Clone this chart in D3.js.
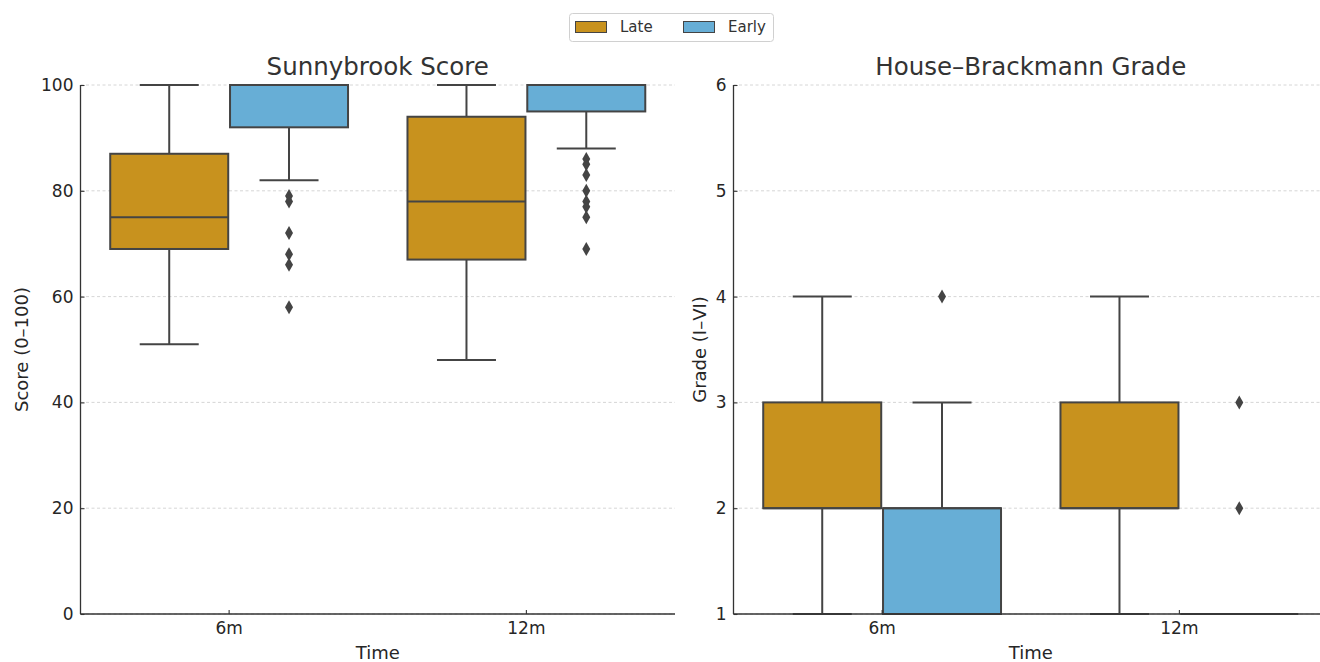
<!DOCTYPE html>
<html>
<head>
<meta charset="utf-8">
<script src="https://cdn.jsdelivr.net/npm/d3@7"></script>
<style>
  html, body { margin: 0; padding: 0; background: #fff; }
  svg { display: block; font-family: "DejaVu Sans", sans-serif; }
</style>
</head>
<body>
<svg id="chart" width="1320" height="662"></svg>
<script>
// ---- data ----
const times = ["6m", "12m"];
const groups = ["Late", "Early"];
const groupColors = ["#C8921E", "#67AED6"];

// box stats: [whiskerLow, q1, median, q3, whiskerHigh] per time point
const sbLate = [[51, 69, 75, 87, 100], [48, 67, 78, 94, 100]];
const sbEarly = [[82, 92, 100, 100, 100], [88, 95, 100, 100, 100]];
const sbLateOutliers = [[], []];
const sbEarlyOutliers = [[79, 78, 72, 68, 66, 58], [86, 85, 83, 80, 78, 77, 75, 69]];

const hbLate = [[1, 2, 2, 3, 4], [1, 2, 2, 3, 4]];
const hbEarly = [[1, 1, 2, 2, 3], [1, 1, 1, 1, 1]];
const hbLateOutliers = [[], []];
const hbEarlyOutliers = [[4], [3, 2]];

const sbTicks = [0, 20, 40, 60, 80, 100];
const hbTicks = [1, 2, 3, 4, 5, 6];

// ---- drawing ----
const svg = d3.select("#chart");
const edge = "#444444";
const textColor = "#262626";

function panel(opts) {
  const { x0, x1, yTop, yBot, domain, ticks, title, ylabel, ylabelX, stats, outliers } = opts;
  const g = svg.append("g");
  const x = d3.scaleBand().domain(times).range([x0, x1]).padding(0);
  const y = d3.scaleLinear().domain(domain).range([yBot, yTop]);
  const bw = x.bandwidth();
  const hue = d3.scaleBand().domain(groups).range([-0.4 * bw, 0.4 * bw]).paddingInner(0.015);

  // grid
  g.append("g").selectAll("line").data(ticks).join("line")
    .attr("x1", x0).attr("x2", x1)
    .attr("y1", d => y(d)).attr("y2", d => y(d))
    .attr("stroke", "#cccccc").attr("stroke-width", 0.8)
    .attr("stroke-dasharray", "3,2.5");

  // boxes
  groups.forEach((grp, gi) => {
    times.forEach((t, ti) => {
      const s = stats[gi][ti];
      const left = x(t) + bw / 2 + hue(grp);
      const w = hue.bandwidth();
      const cx = left + w / 2;
      const bg = g.append("g");
      bg.append("line").attr("x1", cx).attr("x2", cx).attr("y1", y(s[0])).attr("y2", y(s[1]))
        .attr("stroke", edge).attr("stroke-width", 2);
      bg.append("line").attr("x1", cx).attr("x2", cx).attr("y1", y(s[3])).attr("y2", y(s[4]))
        .attr("stroke", edge).attr("stroke-width", 2);
      [s[0], s[4]].forEach(v => {
        bg.append("line").attr("x1", cx - w / 4).attr("x2", cx + w / 4)
          .attr("y1", y(v)).attr("y2", y(v))
          .attr("stroke", edge).attr("stroke-width", 2);
      });
      bg.append("rect").attr("x", left).attr("width", w)
        .attr("y", y(s[3])).attr("height", Math.max(0, y(s[1]) - y(s[3])))
        .attr("fill", groupColors[gi]).attr("stroke", edge).attr("stroke-width", 2);
      bg.append("line").attr("x1", left).attr("x2", left + w)
        .attr("y1", y(s[2])).attr("y2", y(s[2]))
        .attr("stroke", edge).attr("stroke-width", 2);
      bg.selectAll("path.out").data(outliers[gi][ti]).join("path")
        .attr("class", "out")
        .attr("d", "M0,-7L4,0L0,7L-4,0Z")
        .attr("transform", v => `translate(${cx},${y(v)})`)
        .attr("fill", edge);
    });
  });

  // axes (ticks pointing inward)
  const yAxis = d3.axisLeft(y).tickValues(ticks).tickSize(-4).tickPadding(7).tickFormat(d3.format("d"));
  const ya = g.append("g").attr("transform", `translate(${x0},0)`).call(yAxis);
  const xAxis = d3.axisBottom(x).tickSize(-4).tickPadding(8);
  const xa = g.append("g").attr("transform", `translate(0,${yBot})`).call(xAxis);
  [ya, xa].forEach(a => {
    a.select(".domain").attr("stroke", "#333").attr("stroke-width", 1.3);
    a.selectAll(".tick line").attr("stroke", "#333").attr("stroke-width", 1.1);
    a.selectAll(".tick text").attr("fill", textColor).style("font-size", "17px")
      .style("font-family", "DejaVu Sans, sans-serif");
  });
  ya.select(".domain").attr("d", `M0,${yBot}V${yTop}`);
  xa.select(".domain").attr("d", `M${x0},0H${x1}`);

  g.append("text").attr("x", (x0 + x1) / 2).attr("y", 75).attr("text-anchor", "middle")
    .attr("fill", "#333").style("font-size", "24.5px").text(title);
  g.append("text").attr("x", (x0 + x1) / 2).attr("y", 659).attr("text-anchor", "middle")
    .attr("fill", textColor).style("font-size", "18px").text("Time");
  g.append("text").attr("transform", `translate(${ylabelX},${(yTop + yBot) / 2}) rotate(-90)`)
    .attr("text-anchor", "middle").attr("fill", textColor).style("font-size", "18px").text(ylabel);
}

panel({
  x0: 80.5, x1: 675, yTop: 85, yBot: 614, domain: [0, 100], ticks: sbTicks,
  title: "Sunnybrook Score", ylabel: "Score (0–100)", ylabelX: 28,
  stats: [sbLate, sbEarly], outliers: [sbLateOutliers, sbEarlyOutliers]
});
panel({
  x0: 733.5, x1: 1328, yTop: 85, yBot: 614, domain: [1, 6], ticks: hbTicks,
  title: "House–Brackmann Grade", ylabel: "Grade (I–VI)", ylabelX: 706,
  stats: [hbLate, hbEarly], outliers: [hbLateOutliers, hbEarlyOutliers]
});

// legend
const lg = svg.append("g");
lg.append("rect").attr("x", 569.5).attr("y", 13.5).attr("width", 204).attr("height", 28)
  .attr("rx", 3).attr("fill", "#fff").attr("stroke", "#d0d0d0").attr("stroke-width", 1);
const legX = d3.scalePoint().domain(groups).range([575, 683]);
groups.forEach((grp, i) => {
  const lx = legX(grp);
  lg.append("rect").attr("x", lx + 0.5).attr("y", 21.5).attr("width", 31).attr("height", 11)
    .attr("fill", groupColors[i]).attr("stroke", edge).attr("stroke-width", 1);
  lg.append("text").attr("x", lx + 45).attr("y", 32).attr("fill", "#333")
    .style("font-size", "15px").text(grp);
});
</script>
</body>
</html>
